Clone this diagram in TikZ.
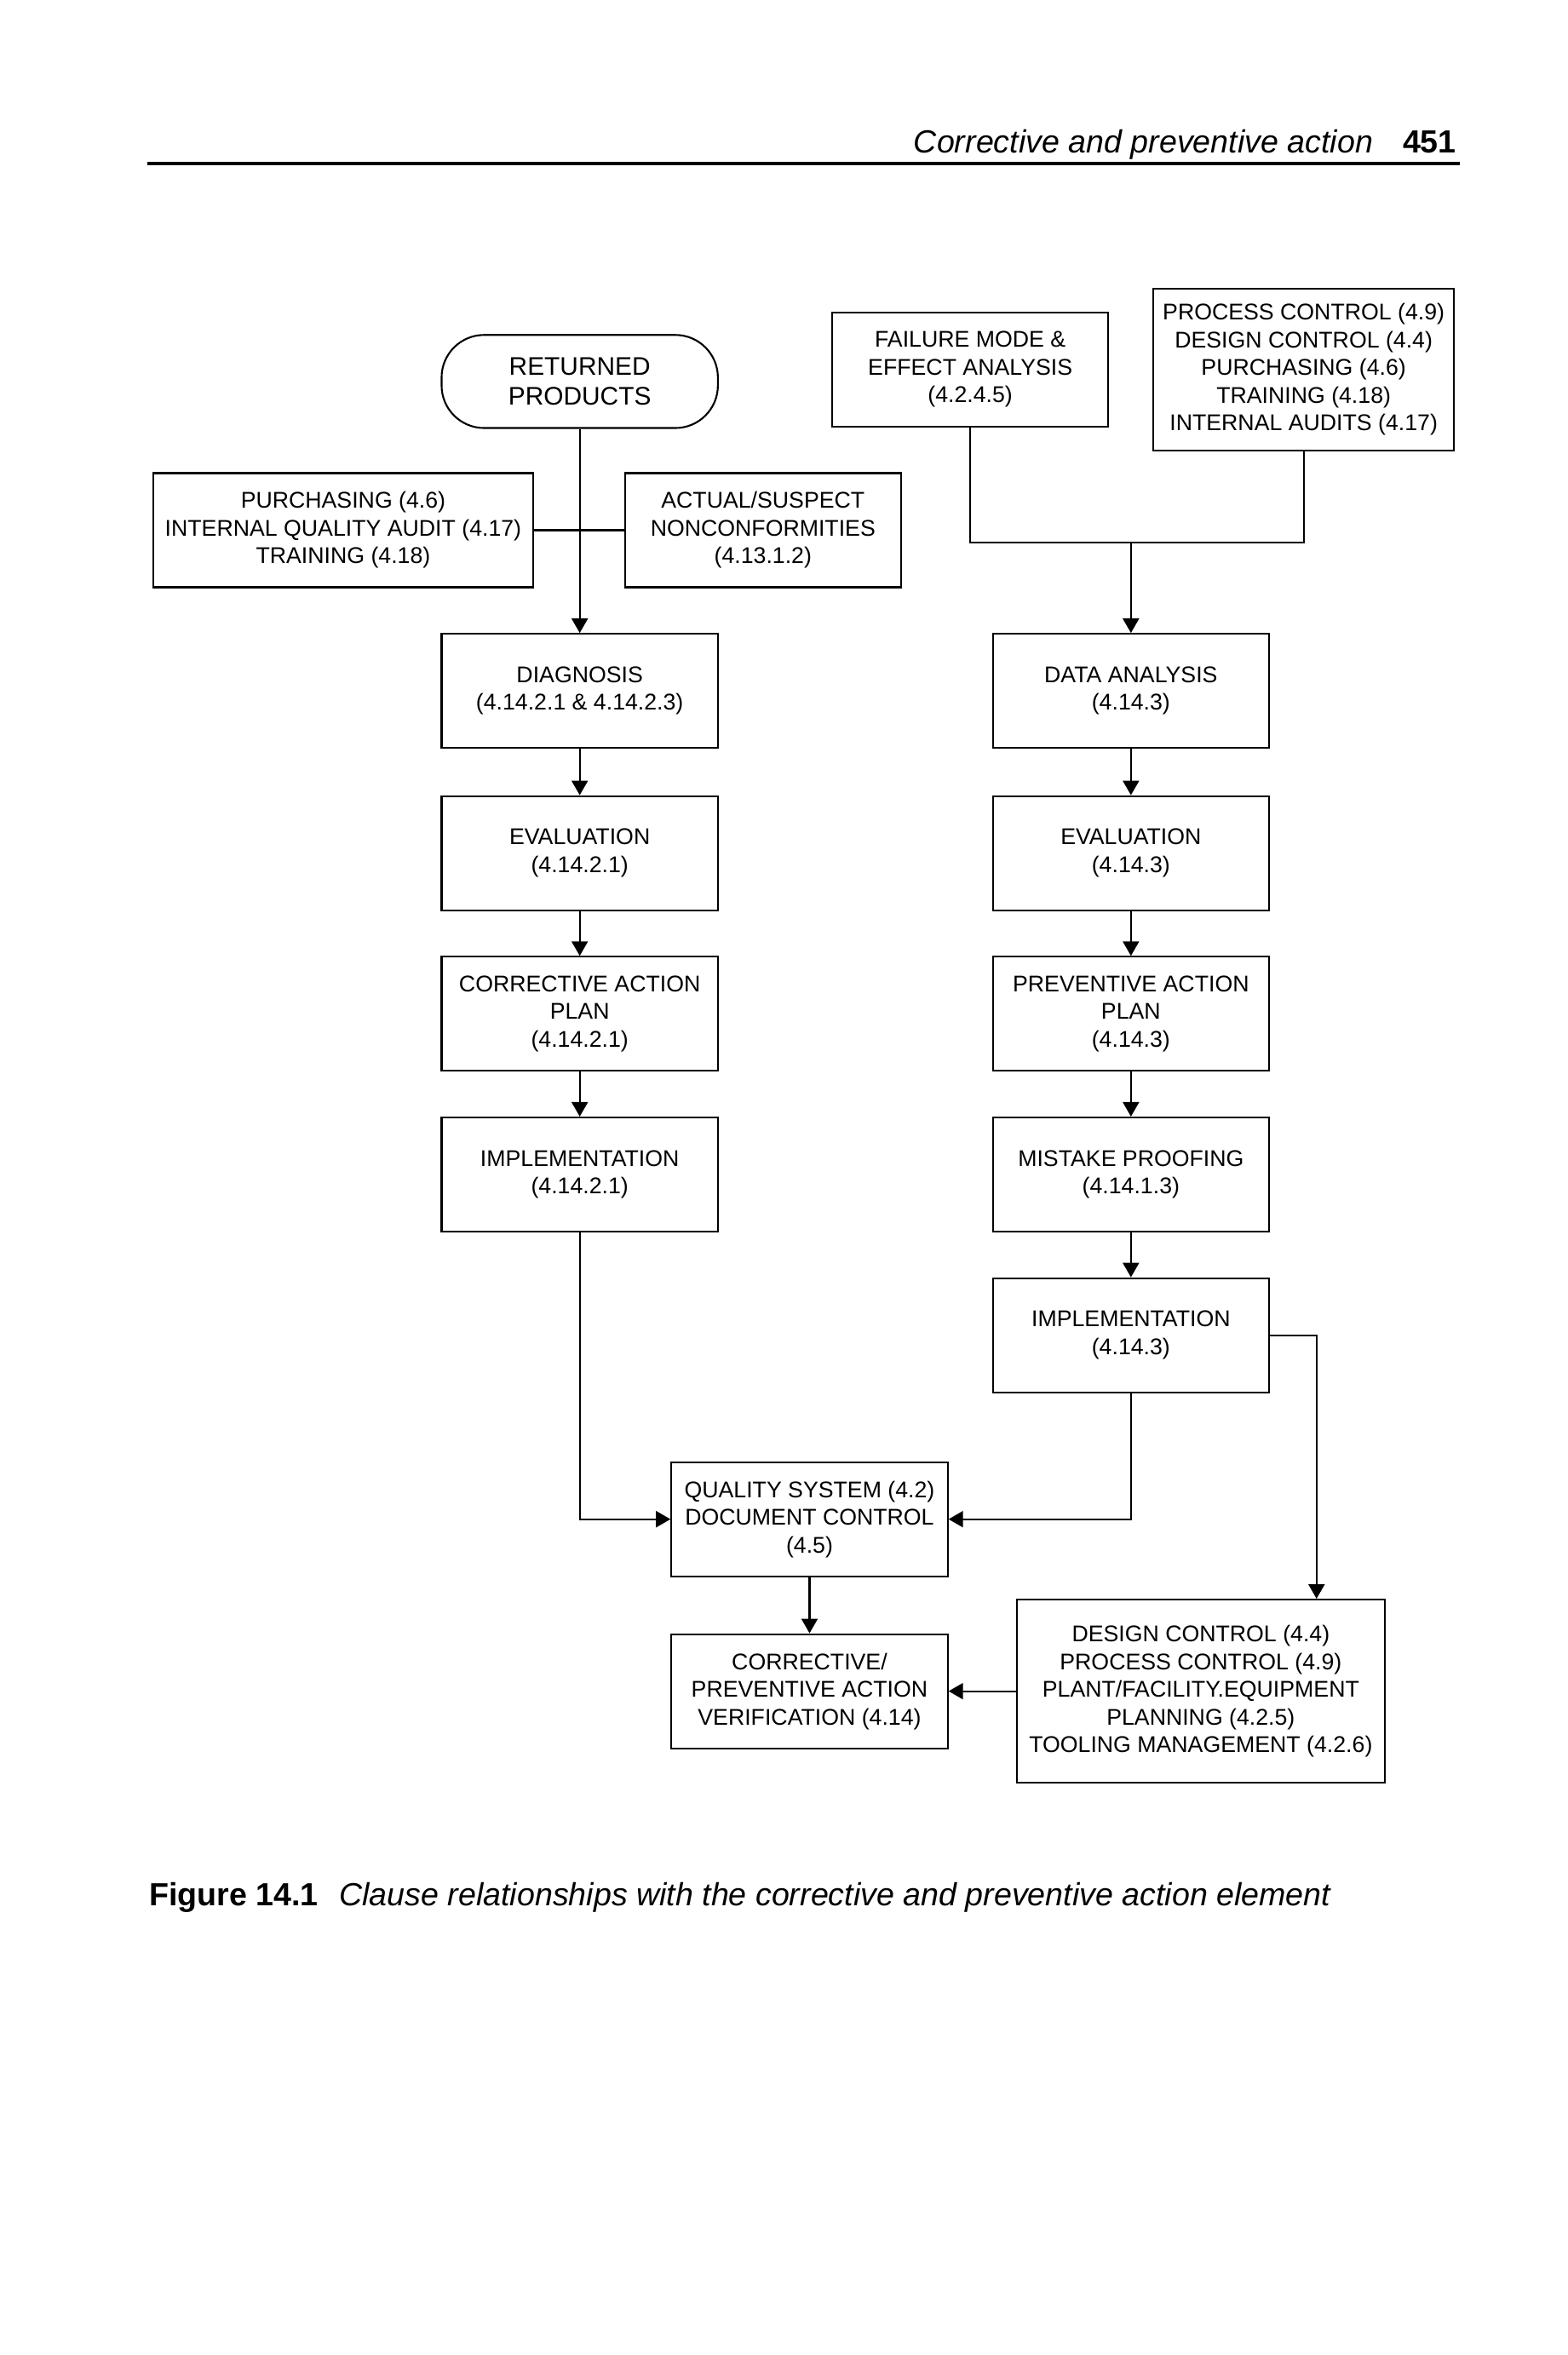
\documentclass[tikz,border=0pt]{standalone}
\usepackage{fontspec}
\setmainfont{Liberation Sans}
\usetikzlibrary{arrows.meta}
\tikzset{>={Triangle[length=0.17cm,width=0.19cm]}}
\tikzset{
  clause/.style={draw,line width=0.6pt,align=center,inner sep=0pt,
    minimum width=3.245cm,minimum height=1.34cm,
    font=\fontsize{7.6}{9.25}\selectfont},
  link/.style={line width=0.6pt},
}

\begin{document}
\begin{tikzpicture}[x=0.017634cm,y=-0.017634cm]
    \useasboundingbox (0,0) rectangle (1044,1568);
    % running head
    \node[anchor=base east,inner sep=0pt,font=\fontsize{10.7}{12}\selectfont] (head) at (970,102)
        {\textit{Corrective and preventive action}\hspace{0.35cm}\textbf{451}};
    \draw[line width=1pt] (98,109) -- (972,109);
    % left column
    \node[clause,rounded corners=0.5cm,minimum height=1.093cm,font=\fontsize{8.5}{10}\selectfont] (ret) at (386,254) {RETURNED\\PRODUCTS};
    \node[clause,minimum width=4.461cm] (purch) at (228.5,353) {PURCHASING (4.6)\\INTERNAL QUALITY AUDIT (4.17)\\TRAINING (4.18)};
    \node[clause] (actual) at (508,353) {ACTUAL/SUSPECT\\NONCONFORMITIES\\(4.13.1.2)};
    \node[clause] (diag) at (386,460) {DIAGNOSIS\\(4.14.2.1 \& 4.14.2.3)};
    \node[clause] (eval1) at (386,568) {EVALUATION\\(4.14.2.1)};
    \node[clause] (cap) at (386,675) {CORRECTIVE ACTION\\PLAN\\(4.14.2.1)};
    \node[clause] (impl1) at (386,782) {IMPLEMENTATION\\(4.14.2.1)};
    % right column
    \node[clause] (fmea) at (646,246) {FAILURE MODE \&\\EFFECT ANALYSIS\\(4.2.4.5)};
    \node[clause,minimum width=3.527cm,minimum height=1.904cm] (procctl) at (868,246)
        {PROCESS CONTROL (4.9)\\DESIGN CONTROL (4.4)\\PURCHASING (4.6)\\TRAINING (4.18)\\INTERNAL AUDITS (4.17)};
    \node[clause] (data) at (753,460) {DATA ANALYSIS\\(4.14.3)};
    \node[clause] (eval2) at (753,568) {EVALUATION\\(4.14.3)};
    \node[clause] (pap) at (753,675) {PREVENTIVE ACTION\\PLAN\\(4.14.3)};
    \node[clause] (mistake) at (753,782) {MISTAKE PROOFING\\(4.14.1.3)};
    \node[clause] (impl2) at (753,889) {IMPLEMENTATION\\(4.14.3)};
    % bottom
    \node[clause] (qsys) at (539,1011.5) {QUALITY SYSTEM (4.2)\\DOCUMENT CONTROL\\(4.5)};
    \node[clause] (verif) at (539,1126) {CORRECTIVE/\\PREVENTIVE ACTION\\VERIFICATION (4.14)};
    \node[clause,minimum width=4.32cm,minimum height=2.151cm] (design) at (799.5,1126)
        {DESIGN CONTROL (4.4)\\PROCESS CONTROL (4.9)\\PLANT/FACILITY.EQUIPMENT\\PLANNING (4.2.5)\\TOOLING MANAGEMENT (4.2.6)};
    \coordinate (join) at (753,361);

    \draw[link,->] (ret) -- (diag);
    \draw[link] (purch) -- (actual);
    \draw[link] (fmea) |- (join) -| (procctl);
    \draw[link,->] (join) -- (data);
    \foreach \a/\b in {diag/eval1,eval1/cap,cap/impl1,data/eval2,eval2/pap,pap/mistake,mistake/impl2}
        \draw[link,->] (\a) -- (\b);
    \draw[link,->] (impl1) |- (qsys);
    \draw[link,->] (impl2) |- (qsys);
    \draw[link,->] (impl2.east) -| ([xshift=-0.811cm]design.north east);
    \draw[link,->] (qsys) -- (verif);
    \draw[link,->] (design) -- (verif);
    % caption
    \node[anchor=base west,inner sep=0pt,font=\fontsize{10.7}{12}\selectfont] (cap14) at (99,1269)
        {\textbf{Figure 14.1}\hspace{7pt}\textit{Clause relationships with the corrective and preventive action element}};
\end{tikzpicture}
\end{document}
